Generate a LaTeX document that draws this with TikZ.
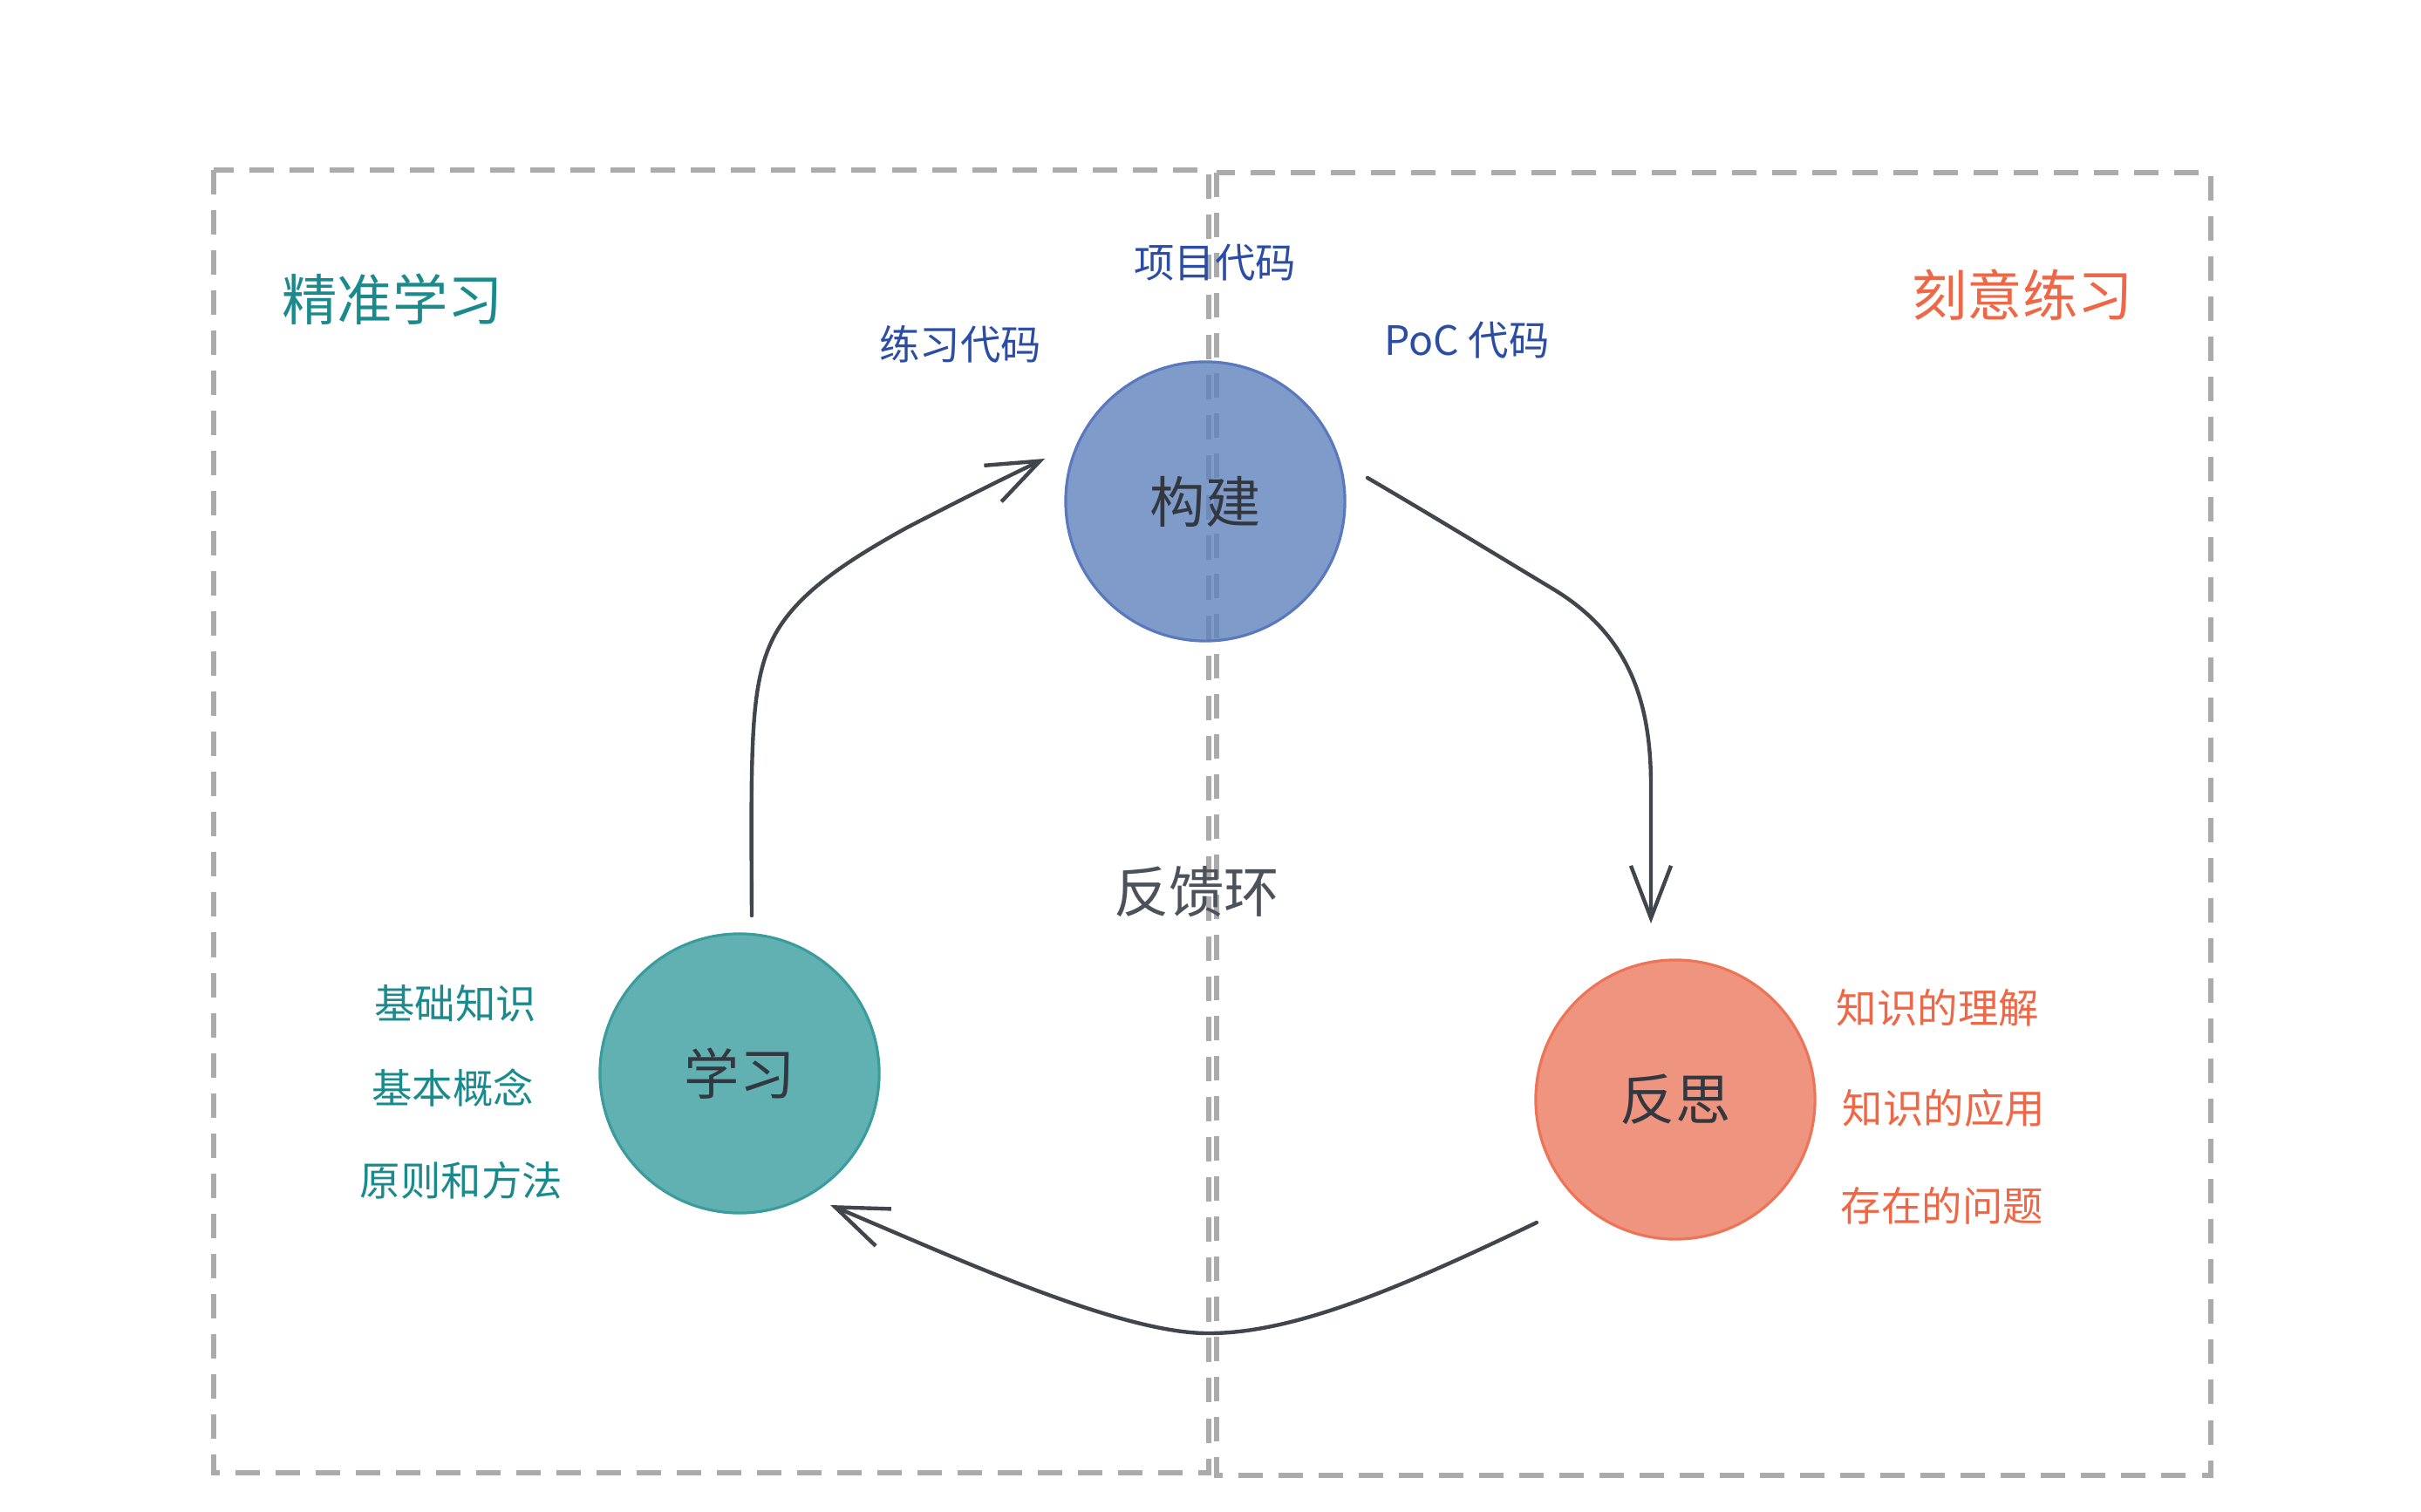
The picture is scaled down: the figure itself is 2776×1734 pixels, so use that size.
\documentclass[tikz,border=0pt]{standalone}
\usepackage{fontspec}
\setmainfont{Noto Sans CJK SC}
\usetikzlibrary{arrows.meta,calc}
\definecolor{tealT}{HTML}{1A8A8D}
\definecolor{orangeT}{HTML}{EE6746}
\definecolor{blueT}{HTML}{2B4DA3}
\definecolor{darkT}{HTML}{333840}
\definecolor{loopT}{HTML}{4B525B}
\definecolor{arrowC}{HTML}{41464D}
\definecolor{dashC}{HTML}{ABABAB}
\definecolor{buildF}{HTML}{5F82BC}
\definecolor{buildD}{HTML}{5A78BE}
\definecolor{learnF}{HTML}{3A9EA0}
\definecolor{learnD}{HTML}{3B9C9E}
\definecolor{reflF}{HTML}{EC7A5F}
\definecolor{reflD}{HTML}{EE7458}
\begin{document}
\begin{tikzpicture}[x=0.01cm,y=-0.01cm,
  box/.style={draw=dashC,line width=0.057cm,dash pattern=on 0.28cm off 0.18cm},
  bigc/.style={circle,minimum size=3.2cm,inner sep=0pt,line width=0.9pt,fill opacity=0.8,text opacity=1,text=darkT,font=\fontsize{18pt}{20pt}\selectfont},
  title/.style={inner sep=0pt,font=\fontsize{18pt}{20pt}\selectfont},
  lbl/.style={inner sep=0pt,font=\fontsize{13.2pt}{15pt}\selectfont},
  flow/.style={draw=arrowC,line width=1.25pt,line cap=round,-{Straight Barb[length=0.6cm,width=0.46cm,line width=1.25pt]}}]
\useasboundingbox (0,0) rectangle (2776,1734);
\fill[white] (0,0) rectangle (2776,1734);
% dashed regions
\draw[box] (245,195) rectangle (1386,1689);
\draw[box] (1395,198) rectangle (2535,1692);
% circles
\node[bigc,fill=buildF,draw=buildD] (build) at (1382,575) {构建};
\node[bigc,fill=learnF,draw=learnD] (learn) at (848,1231) {学习};
\node[bigc,fill=reflF,draw=reflD] (refl) at (1921,1261) {反思};
% titles
\node[title,text=tealT] (t1) at (450,343) {精准学习};
\node[title,text=orangeT] (t2) at (2319,338) {刻意练习};
\node[title,text=loopT] (loop) at (1372,1023) {反馈环};
% labels
\node[lbl,text=blueT] (c1) at (1393,301) {项目代码};
\node[lbl,text=blueT] (c2) at (1101,395) {练习代码};
\node[lbl,text=blueT] (c3) at (1682,390) {PoC 代码};
\node[lbl,text=tealT] (l1) at (522,1151) {基础知识};
\node[lbl,text=tealT] (l2) at (519,1248) {基本概念};
\node[lbl,text=tealT] (l3) at (529,1354) {原则和方法};
\node[lbl,text=orangeT] (r1) at (2222,1156) {知识的理解};
\node[lbl,text=orangeT] (r2) at (2229,1271) {知识的应用};
\node[lbl,text=orangeT] (r3) at (2227,1383) {存在的问题};
% arrows
\draw[flow] ([shift={(14,-181)}]learn.center)
  .. controls (861,860) and (860,790) .. (884,737)
  .. controls (908,684) and (968,645) .. (1040,605)
  .. controls (1100,574) and (1150,549) .. ([shift={(-184,-49)}]build.center);
\draw[flow] ([shift={(186,-27)}]build.center)
  .. controls (1650,596) and (1715,636) .. (1780,675)
  .. controls (1865,726) and (1893,800) .. (1893,900)
  -- ([shift={(-28,-202)}]refl.center);
\draw[flow] ([shift={(-159,141)}]refl.center)
  .. controls (1600,1480) and (1480,1530) .. (1383,1529)
  .. controls (1280,1528) and (1090,1440) .. ([shift={(104,151)}]learn.center);
\end{tikzpicture}
\end{document}
